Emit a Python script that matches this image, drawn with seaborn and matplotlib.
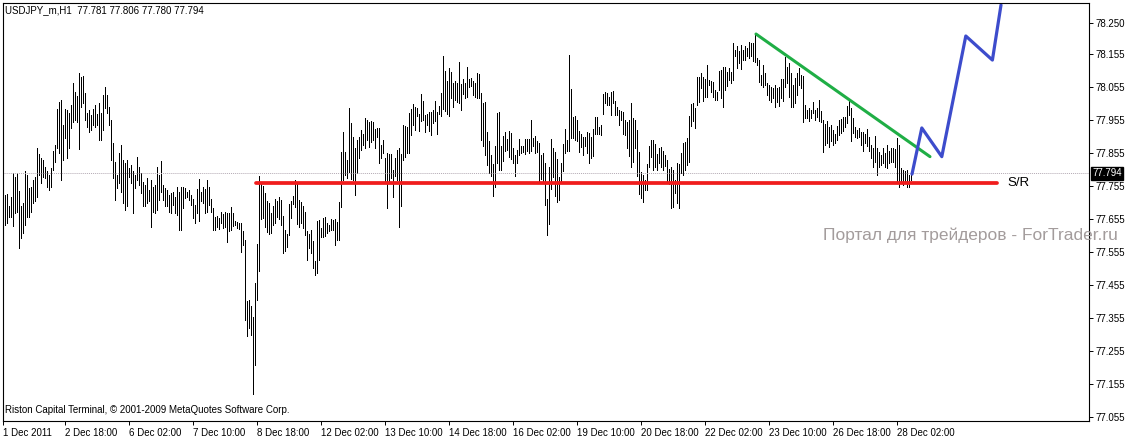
import matplotlib
matplotlib.use("Agg")
import matplotlib.pyplot as plt
import matplotlib.transforms as mtransforms
import seaborn as sns

# USDJPY H1 bars (high / low per hourly bar), split in chunks
high_1 = [77.683, 77.729, 77.731, 77.694, 77.724, 77.795, 77.784, 77.795, 77.741, 77.694,
          77.704, 77.800, 77.790, 77.749, 77.754, 77.774, 77.784, 77.872, 77.852, 77.840,
          77.835, 77.815, 77.800, 77.790, 77.810, 77.863, 77.880, 77.989, 78.012, 78.017,
          77.941, 77.989, 77.987, 77.976, 78.002, 78.067, 78.042, 78.029, 78.098, 78.088,
          78.090, 78.039, 77.976, 77.987, 77.971, 77.989, 78.002, 77.973, 78.007, 77.976,
          78.032, 78.057, 78.032, 77.997, 77.956, 77.886, 77.830, 77.790, 77.855, 77.880,
          77.835, 77.825, 77.835, 77.810, 77.820, 77.800, 77.790, 77.845, 77.815, 77.795,
          77.769, 77.759, 77.779, 77.744, 77.774, 77.754, 77.759, 77.815, 77.790, 77.833,
          77.759, 77.749, 77.744, 77.729, 77.734, 77.739, 77.724, 77.754, 77.739, 77.754,
          77.754, 77.749, 77.739, 77.744]
low_1 = [77.547, 77.638, 77.643, 77.663, 77.663, 77.636, 77.673, 77.678, 77.569, 77.598,
         77.613, 77.638, 77.663, 77.663, 77.678, 77.704, 77.709, 77.724, 77.790, 77.764,
         77.784, 77.779, 77.754, 77.744, 77.754, 77.805, 77.830, 77.870, 77.855, 77.774,
         77.835, 77.901, 77.840, 77.870, 77.931, 77.951, 77.956, 77.951, 77.867, 77.997,
         78.007, 77.956, 77.936, 77.921, 77.926, 77.941, 77.936, 77.941, 77.896, 77.896,
         77.926, 77.992, 77.976, 77.941, 77.835, 77.779, 77.714, 77.749, 77.764, 77.739,
         77.704, 77.683, 77.694, 77.784, 77.764, 77.675, 77.749, 77.774, 77.759, 77.734,
         77.694, 77.694, 77.704, 77.709, 77.633, 77.678, 77.673, 77.683, 77.714, 77.739,
         77.714, 77.694, 77.694, 77.678, 77.673, 77.699, 77.673, 77.668, 77.623, 77.623,
         77.689, 77.719, 77.724, 77.714]

high_2 = [77.729, 77.716, 77.699, 77.746, 77.776, 77.739, 77.754, 77.746, 77.774, 77.754,
          77.716, 77.689, 77.663, 77.665, 77.658, 77.678, 77.671, 77.678, 77.675, 77.673,
          77.692, 77.673, 77.651, 77.648, 77.645, 77.643, 77.618, 77.591, 77.406, 77.409,
          77.391, 77.360, 77.461, 77.580, 77.787, 77.766, 77.756, 77.734, 77.709, 77.704,
          77.675, 77.694, 77.716, 77.709, 77.722, 77.714, 77.665, 77.621, 77.611, 77.702,
          77.709, 77.726, 77.774, 77.762, 77.714, 77.706, 77.696, 77.678, 77.618, 77.611,
          77.623, 77.588, 77.527, 77.651, 77.653, 77.628, 77.658, 77.661, 77.645, 77.638,
          77.655, 77.653, 77.655, 77.648, 77.706]
low_2 = [77.699, 77.658, 77.645, 77.675, 77.651, 77.709, 77.704, 77.675, 77.678, 77.699,
         77.678, 77.623, 77.621, 77.633, 77.625, 77.643, 77.628, 77.633, 77.585, 77.618,
         77.623, 77.635, 77.637, 77.628, 77.625, 77.557, 77.577, 77.348, 77.300, 77.325,
         77.305, 77.125, 77.212, 77.411, 77.497, 77.655, 77.658, 77.633, 77.615, 77.611,
         77.613, 77.638, 77.643, 77.663, 77.655, 77.638, 77.552, 77.560, 77.570, 77.608,
         77.658, 77.702, 77.692, 77.641, 77.633, 77.643, 77.628, 77.608, 77.532, 77.567,
         77.552, 77.507, 77.487, 77.492, 77.532, 77.601, 77.601, 77.605, 77.613, 77.618,
         77.623, 77.623, 77.577, 77.591, 77.593]

high_3 = [77.859, 77.920, 77.859, 77.835, 77.992, 77.947, 77.904, 77.871, 77.895, 77.904,
          77.926, 77.914, 77.962, 77.956, 77.950, 77.953, 77.950, 77.929, 77.932, 77.932]
low_3 = [77.692, 77.774, 77.789, 77.780, 77.798, 77.777, 77.774, 77.729, 77.795, 77.841,
         77.865, 77.880, 77.871, 77.895, 77.874, 77.889, 77.895, 77.871, 77.904, 77.826]

high_4 = [77.881, 77.894, 77.840, 77.856, 77.854, 77.854, 77.805, 77.840, 77.866, 77.871,
          77.854, 77.941, 77.938, 77.934, 77.977, 77.989, 78.005, 77.997, 77.992, 77.975,
          78.035, 78.015, 77.972, 77.975, 77.979, 77.979, 77.985, 78.015, 77.979, 77.999,
          78.039, 78.149, 78.106, 78.073, 78.113, 78.103, 78.068, 78.073, 78.068, 78.133,
          78.066, 78.080, 78.068, 78.118, 78.080, 78.083, 78.073, 78.068, 78.098, 78.096,
          78.039, 78.009, 78.012, 77.921, 77.891, 77.851, 77.823, 77.878, 77.977, 77.979,
          77.876, 77.908, 77.921, 77.898, 77.924, 77.916, 77.871, 77.851, 77.866, 77.898,
          77.878, 77.878, 77.898, 77.898, 77.898, 77.955, 77.901, 77.908, 77.891, 77.886,
          77.851, 77.856, 77.827, 77.716, 77.815, 77.898, 77.871, 77.858, 77.837, 77.782,
          77.827, 77.884, 77.928, 77.896, 78.154]
low_4 = [77.840, 77.856, 77.770, 77.689, 77.765, 77.780, 77.722, 77.785, 77.775, 77.633,
         77.694, 77.835, 77.845, 77.856, 77.856, 77.911, 77.941, 77.926, 77.967, 77.924,
         77.952, 77.957, 77.921, 77.941, 77.924, 77.911, 77.946, 77.952, 77.914, 77.975,
         77.967, 77.989, 77.982, 77.975, 77.967, 78.022, 77.997, 78.017, 78.012, 78.009,
         77.987, 78.035, 78.022, 78.025, 78.056, 78.058, 78.032, 78.025, 78.022, 78.022,
         77.894, 77.878, 77.851, 77.820, 77.795, 77.785, 77.726, 77.753, 77.825, 77.805,
         77.803, 77.833, 77.861, 77.864, 77.845, 77.838, 77.825, 77.785, 77.827, 77.851,
         77.856, 77.858, 77.854, 77.861, 77.856, 77.861, 77.876, 77.856, 77.858, 77.767,
         77.777, 77.770, 77.697, 77.608, 77.641, 77.747, 77.783, 77.726, 77.707, 77.714,
         77.765, 77.800, 77.856, 77.861, 77.861]

high_5 = [78.050, 77.965, 77.967, 77.957, 77.924, 77.914, 77.906, 77.904, 77.921, 77.916,
          77.906, 77.928, 77.965, 77.965, 77.936, 77.941, 78.035, 78.042, 78.037, 78.025,
          78.042, 78.045, 78.015, 77.997, 77.987, 77.982, 77.979, 77.957, 77.949, 77.955,
          78.009, 77.962, 77.955, 77.926, 77.858, 77.797, 77.790, 77.775, 77.823, 77.878,
          77.894, 77.896, 77.884, 77.854, 77.871, 77.874, 77.861, 77.851, 77.835, 77.807,
          77.815, 77.803, 77.775, 77.827, 77.823, 77.856, 77.886, 77.888, 77.901, 77.967,
          78.005, 78.009, 77.992, 78.086, 78.088, 78.098, 78.088, 78.080, 78.123, 78.078,
          78.073, 78.070, 78.047, 78.042, 78.106, 78.108, 78.116, 78.116, 78.103, 78.113,
          78.103, 78.191, 78.167, 78.181, 78.164, 78.184, 78.169, 78.181, 78.174, 78.194,
          78.189, 78.191, 78.215, 78.143, 78.138]
low_5 = [77.901, 77.901, 77.896, 77.891, 77.858, 77.874, 77.851, 77.876, 77.856, 77.825,
         77.840, 77.848, 77.914, 77.914, 77.914, 77.911, 77.975, 78.007, 78.002, 78.002,
         77.972, 78.009, 77.972, 77.972, 77.941, 77.957, 77.914, 77.911, 77.871, 77.848,
         77.815, 77.830, 77.871, 77.785, 77.732, 77.719, 77.706, 77.744, 77.744, 77.813,
         77.843, 77.805, 77.813, 77.803, 77.827, 77.813, 77.805, 77.817, 77.765, 77.763,
         77.689, 77.692, 77.734, 77.704, 77.689, 77.795, 77.790, 77.805, 77.820, 77.830,
         77.938, 77.952, 77.931, 78.002, 78.012, 78.053, 78.015, 78.025, 78.025, 78.063,
         78.042, 78.027, 78.017, 78.017, 78.047, 78.022, 77.995, 78.047, 78.058, 78.076,
         78.068, 78.076, 78.149, 78.113, 78.130, 78.110, 78.138, 78.138, 78.149, 78.143,
         78.149, 78.136, 78.133, 78.123, 78.070]

high_6 = [78.093, 78.123, 78.098, 78.067, 78.062, 78.057, 78.052, 78.062, 78.052, 78.057,
          78.080, 78.080, 78.148, 78.118, 78.128, 78.098, 78.062, 78.083, 78.098, 78.113,
          78.093, 78.090, 78.002, 77.987, 77.992, 77.987, 78.012, 77.985, 77.992, 78.017,
          77.982, 77.956, 77.944, 77.954, 77.936, 77.941, 77.926, 77.914, 77.938, 77.956,
          77.958, 77.964, 77.966, 77.999, 78.015, 77.992, 77.961, 77.936, 77.926, 77.931,
          77.921, 77.921, 77.914, 77.928, 77.906, 77.881, 77.870, 77.908, 77.870, 77.860,
          77.850, 77.870, 77.857, 77.881, 77.863, 77.870, 77.870, 77.867, 77.901, 77.881,
          77.810, 77.805, 77.800, 77.805, 77.790, 77.800]
low_6 = [78.062, 78.057, 78.062, 78.032, 78.017, 78.012, 78.022, 77.995, 78.012, 77.999,
         78.022, 78.015, 78.057, 78.069, 78.027, 77.997, 77.995, 78.007, 78.032, 78.062,
         78.052, 77.951, 77.961, 77.961, 77.954, 77.961, 77.977, 77.956, 77.964, 77.954,
         77.951, 77.860, 77.881, 77.886, 77.873, 77.891, 77.881, 77.886, 77.896, 77.911,
         77.918, 77.924, 77.936, 77.946, 77.971, 77.891, 77.916, 77.904, 77.901, 77.906,
         77.881, 77.863, 77.886, 77.878, 77.863, 77.840, 77.815, 77.830, 77.790, 77.815,
         77.820, 77.825, 77.813, 77.810, 77.825, 77.830, 77.830, 77.815, 77.764, 77.754,
         77.769, 77.759, 77.769, 77.754, 77.754, 77.775]

bar_high = high_1 + high_2 + high_3 + high_4 + high_5 + high_6
bar_low = low_1 + low_2 + low_3 + low_4 + low_5 + low_6

# hand-drawn analysis objects (bar index, price)
sr_x = [126.5, 497]
sr_price = 77.764
trend_x = [376.5, 463.5]
trend_y = [78.217, 77.845]
forecast_x = [454.5, 459.4, 469.4, 481.4, 494.7, 499]
forecast_y = [77.792, 77.932, 77.845, 78.211, 78.138, 78.305]
last_price = 77.794

date_ticks = [0, 31, 63, 95, 127, 159, 191, 223, 255, 287, 319, 351, 383, 415, 447]
date_labels = ["1 Dec 2011", "2 Dec 18:00", "6 Dec 02:00", "7 Dec 10:00", "8 Dec 18:00",
               "12 Dec 02:00", "13 Dec 10:00", "14 Dec 18:00", "16 Dec 02:00",
               "19 Dec 10:00", "20 Dec 18:00", "22 Dec 02:00", "23 Dec 10:00",
               "26 Dec 18:00", "28 Dec 02:00"]
price_ticks = [78.250, 78.155, 78.055, 77.955, 77.855, 77.755, 77.655,
               77.555, 77.455, 77.355, 77.255, 77.155, 77.055]

sns.set_style("white")
plt.rcParams["font.family"] = ["Liberation Sans", "DejaVu Sans"]

W, H = 1127, 436
fig = plt.figure(figsize=(W / 100, H / 100), dpi=100)
ax = fig.add_axes([2.5 / W, (H - 420.7) / H, (1089 - 2.5) / W, (420.7 - 2.7) / H])

ax.vlines(range(len(bar_high)), bar_low, bar_high, color="black", lw=0.7, antialiased=False)
ax.axhline(last_price, color="#b4aab4", lw=0.7, ls=(0, (1, 1)))

sns.lineplot(x=sr_x, y=[sr_price, sr_price], ax=ax, color="#f01c1c", lw=2.7, sort=False)
sns.lineplot(x=trend_x, y=trend_y, ax=ax, color="#1fae45", lw=2.2, sort=False)
sns.lineplot(x=forecast_x, y=forecast_y, ax=ax, color="#3d4ccc", lw=2.3, sort=False)

ax.text(502, sr_price, "S/R", fontsize=9.5, ha="left", va="center", color="black")

ax.set_xlim(-0.25, 543)
ax.set_ylim(77.044, 78.312)

ax.yaxis.tick_right()
ax.set_yticks(price_ticks)
ax.set_yticklabels([f"{p:.3f}" for p in price_ticks])
ax.set_xticks(date_ticks)
ax.set_xticklabels(date_labels, ha="left")
offset = mtransforms.ScaledTranslation(2 / 100, 0, fig.dpi_scale_trans)
for lbl in ax.get_xticklabels():
    lbl.set_transform(lbl.get_transform() + offset)
ax.tick_params(axis="both", direction="out", length=3, width=0.7, labelsize=7,
               colors="black", pad=2)
ax.tick_params(axis="y", right=True, left=False)
ax.tick_params(axis="x", bottom=True)
for s in ax.spines.values():
    s.set_color("black")
    s.set_linewidth(0.8)
ax.set_xlabel("")
ax.set_ylabel("")

# current price box on the price scale
ax.text(1.003, last_price, f"{last_price:.3f}", transform=ax.get_yaxis_transform(),
        fontsize=7, color="white", ha="left", va="center",
        bbox=dict(boxstyle="square,pad=0.15", fc="black", ec="black"))

fig.text(5 / W, 1 - 10 / H, "USDJPY_m,H1  77.781 77.806 77.780 77.794",
         fontsize=7, ha="left", va="center", color="black")
fig.text(5 / W, 1 - 410 / H, "Riston Capital Terminal, © 2001-2009 MetaQuotes Software Corp.",
         fontsize=7, ha="left", va="center", color="black")
fig.text(1118 / W, 1 - 235 / H, "Портал для трейдеров - ForTrader.ru",
         fontsize=12.5, ha="right", va="center", color="#a39c9c")

fig.savefig("out.png", dpi=100)
